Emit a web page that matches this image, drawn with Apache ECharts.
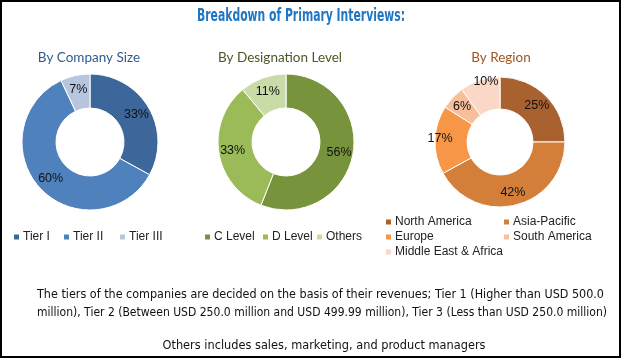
<!DOCTYPE html>
<html>
<head>
<meta charset="utf-8">
<script src="https://cdn.jsdelivr.net/npm/echarts@6/dist/echarts.min.js"></script>
<style>html,body{margin:0;padding:0;background:#fff;}#c{width:623px;height:360px;}</style>
</head>
<body>
<div id="c"></div>
<script>
const sizeCats = ['Tier I', 'Tier II', 'Tier III'];
const sizeVals = [33, 60, 7];
const desigCats = ['C Level', 'D Level', 'Others'];
const desigVals = [56, 33, 11];
const regionCats = ['North America', 'Asia-Pacific', 'Europe', 'South America', 'Middle East & Africa'];
const regionVals = [25, 42, 17, 6, 10];

const mainTitle = 'Breakdown of Primary Interviews:';
const subTitles = ['By Company Size', 'By Designation Level', 'By Region'];
const footLines = [
  'The tiers of the companies are decided on the basis of their revenues; Tier 1 (Higher than USD 500.0',
  'million), Tier 2 (Between USD 250.0 million and USD 499.99 million), Tier 3 (Less than USD 250.0 million)',
  'Others includes sales, marketing, and product managers'
];

const sizeColors = ['#3D679A', '#4F81BD', '#B7C6DE'];
const desigColors = ['#77933C', '#9BBB59', '#C9DBA6'];
const regionColors = ['#A9612F', '#D37F3A', '#F79646', '#F9BE9A', '#FAD7C6'];

const chart = echarts.init(document.getElementById('c'));
const labelFont = 'Liberation Sans';

// measure text widths to fit the condensed title and footer widths
const mctx = document.createElement('canvas').getContext('2d');
function measure(font, txt) { mctx.font = font; return mctx.measureText(txt).width; }
const titleFont = 'bold 17px "DejaVu Sans Condensed", "DejaVu Sans", sans-serif';
const titleScale = 208 / measure(titleFont, mainTitle);
const footFont = '12px "DejaVu Sans", sans-serif';
const footScale1 = 567 / measure(footFont, footLines[0]);
const footScale2 = 570 / measure(footFont, footLines[1]);
const footScale3 = 323 / measure(footFont, footLines[2]);

function mkData(cats, vals, colors) {
  return cats.map((n, i) => ({ name: n, value: vals[i], itemStyle: { color: colors[i] } }));
}
function pie(cats, vals, colors, center, radius) {
  return {
    type: 'pie', center: center, radius: radius, startAngle: 90, clockwise: true,
    avoidLabelOverlap: false, animation: false,
    itemStyle: { borderColor: '#fff', borderWidth: 1 },
    label: { show: true, position: 'inside', formatter: '{c}%', color: '#111', fontSize: 12.5, fontFamily: labelFont },
    labelLine: { show: false },
    emphasis: { disabled: true },
    data: mkData(cats, vals, colors)
  };
}
const regionSeries = pie(regionCats, regionVals, regionColors, [500, 142], [33, 65]);
regionSeries.data[4].label = { offset: [2, -11] };
regionSeries.data[2].label = { offset: [-8, -2] };

function leg(name, left, top) {
  return {
    data: [name], left: left, top: top, orient: 'horizontal', padding: 0,
    itemWidth: 7, itemHeight: 7, itemGap: 0, icon: 'rect', selectedMode: false,
    textStyle: { fontSize: 12, color: '#222', fontFamily: 'Liberation Sans', padding: [0, 0, 0, -2] }
  };
}
const legends = [
  leg(sizeCats[0], 12, 231), leg(sizeCats[1], 62, 231), leg(sizeCats[2], 118, 231),
  leg(desigCats[0], 203, 231), leg(desigCats[1], 261, 231), leg(desigCats[2], 315, 231),
  leg(regionCats[0], 384, 216), leg(regionCats[1], 502, 216),
  leg(regionCats[2], 384, 231), leg(regionCats[3], 502, 231),
  leg(regionCats[4], 384, 246)
];

chart.setOption({
  backgroundColor: '#fff',
  animation: false,
  title: [
    { text: subTitles[0], left: 84, top: 46, textAlign: 'center', textStyle: { fontFamily: 'Lato', fontSize: 13.5, fontWeight: 'normal', color: '#2F5C8F' } },
    { text: subTitles[1], left: 275, top: 46, textAlign: 'center', textStyle: { fontFamily: 'Lato', fontSize: 13.5, fontWeight: 'normal', color: '#4A5A26' } },
    { text: subTitles[2], left: 496, top: 46, textAlign: 'center', textStyle: { fontFamily: 'Lato', fontSize: 13.5, fontWeight: 'normal', color: '#A0551F' } }
  ],
  legend: legends,
  series: [
    pie(sizeCats, sizeVals, sizeColors, [90, 142], [34, 68]),
    pie(desigCats, desigVals, desigColors, [286, 142], [34, 68]),
    regionSeries
  ],
  graphic: [
    { type: 'rect', shape: { x: 1, y: 1, width: 619, height: 356 }, style: { fill: 'none', stroke: '#000', lineWidth: 2 }, silent: true },
    { type: 'text', x: 301, y: 17, scaleX: titleScale, style: { text: mainTitle, font: titleFont, fill: '#1F76C2', align: 'center', verticalAlign: 'middle' } },
    { type: 'text', x: 37, y: 295, scaleX: footScale1, style: { text: footLines[0], font: footFont, fill: '#111', align: 'left', verticalAlign: 'middle' } },
    { type: 'text', x: 37, y: 313, scaleX: footScale2, style: { text: footLines[1], font: footFont, fill: '#111', align: 'left', verticalAlign: 'middle' } },
    { type: 'text', x: 324, y: 346, scaleX: footScale3, style: { text: footLines[2], font: footFont, fill: '#111', align: 'center', verticalAlign: 'middle' } }
  ]
});
</script>
</body>
</html>
